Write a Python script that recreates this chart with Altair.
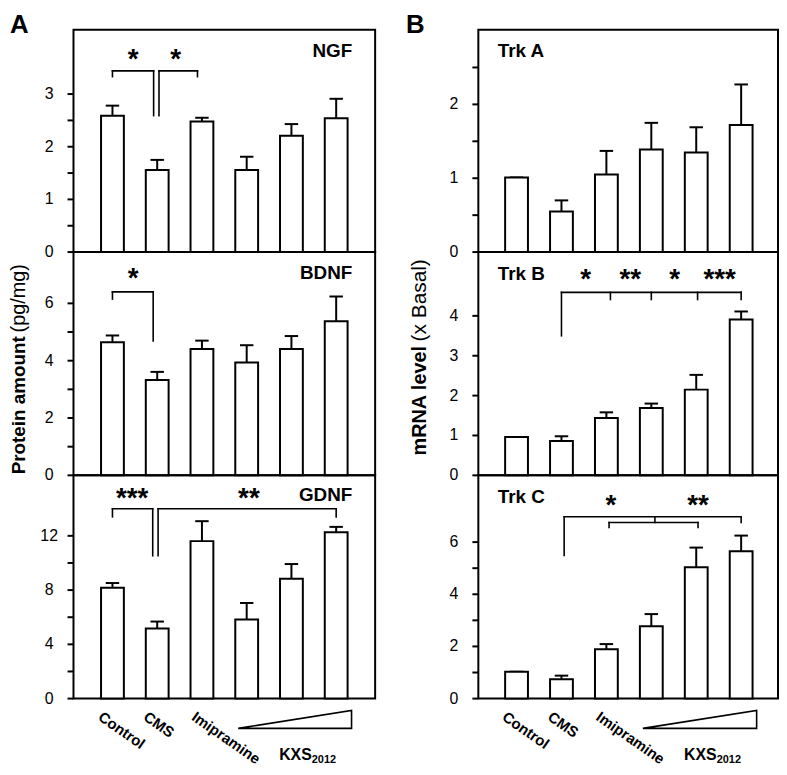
import altair as alt
import pandas as pd

FONT = "Liberation Sans"

# ---------------- data ----------------
categories = ["Control", "CMS", "Imipramine", "KXS2012 low", "KXS2012 mid", "KXS2012 high"]
x_labels = ["Control", "CMS", "Imipramine"]

ngf_mean = [2.59, 1.56, 2.48, 1.56, 2.21, 2.54]
ngf_sem = [0.19, 0.19, 0.07, 0.25, 0.22, 0.37]
bdnf_mean = [4.64, 3.33, 4.41, 3.94, 4.41, 5.38]
bdnf_sem = [0.24, 0.28, 0.29, 0.60, 0.45, 0.86]
gdnf_mean = [8.18, 5.17, 11.61, 5.83, 8.84, 12.27]
gdnf_sem = [0.34, 0.51, 1.47, 1.22, 1.08, 0.39]

trka_mean = [1.01, 0.55, 1.05, 1.39, 1.35, 1.72]
trka_sem = [0.00, 0.15, 0.32, 0.36, 0.34, 0.55]
trkb_mean = [0.96, 0.86, 1.44, 1.69, 2.15, 3.91]
trkb_sem = [0.00, 0.12, 0.14, 0.11, 0.37, 0.20]
trkc_mean = [1.03, 0.74, 1.89, 2.77, 5.04, 5.65]
trkc_sem = [0.00, 0.14, 0.20, 0.47, 0.75, 0.60]

# y ticks (every tick value) and the ones that carry a label
ngf_ticks, ngf_labeled = [0, 0.5, 1, 1.5, 2, 2.5, 3], [0, 1, 2, 3]
bdnf_ticks, bdnf_labeled = [0, 1, 2, 3, 4, 5, 6], [0, 2, 4, 6]
gdnf_ticks, gdnf_labeled = [0, 2, 4, 6, 8, 10, 12], [0, 4, 8, 12]
trka_ticks, trka_labeled = [0, 0.5, 1, 1.5, 2, 2.5], [0, 1, 2]
trkb_ticks, trkb_labeled = [0, 1, 2, 3, 4], [0, 1, 2, 3, 4]
trkc_ticks, trkc_labeled = [0, 1, 2, 3, 4, 5, 6], [0, 2, 4, 6]

# significance brackets (polylines in category-index / value units) and stars
ngf_brackets = [[(0, 3.33), (0, 3.44), (0.92, 3.44), (0.92, 2.59)],
                [(1.04, 2.59), (1.04, 3.44), (1.9, 3.44), (1.9, 3.33)]]
ngf_stars = [(0.46, 3.49, "*"), (1.41, 3.49, "*")]

bdnf_brackets = [[(0, 6.15), (0, 6.40), (0.91, 6.40), (0.91, 4.69)]]
bdnf_stars = [(0.46, 6.56, "*")]

gdnf_brackets = [[(0, 13.4), (0, 14.0), (0.9, 14.0), (0.9, 10.53)],
                 [(1.02, 10.53), (1.02, 14.0), (5.0, 14.0), (5.0, 13.4)]]
gdnf_stars = [(0.44, 14.12, "***"), (3.05, 14.12, "**")]

trka_brackets = []
trka_stars = []

trkb_brackets = [[(1.0, 3.5), (1.0, 4.59), (5.0, 4.59), (5.0, 4.41)],
                 [(2.09, 4.59), (2.09, 4.41)],
                 [(3.0, 4.59), (3.0, 4.41)],
                 [(4.03, 4.59), (4.03, 4.41)]]
trkb_stars = [(1.54, 4.69, "*"), (2.53, 4.69, "**"), (3.52, 4.69, "*"), (4.52, 4.69, "***")]

trkc_brackets = [[(1.06, 5.49), (1.06, 6.97), (5.0, 6.97), (5.0, 6.75)],
                 [(3.08, 6.97), (3.08, 6.75)],
                 [(2.06, 6.56), (2.06, 6.75), (4.04, 6.75), (4.04, 6.56)]]
trkc_stars = [(2.1, 7.09, "*"), (4.04, 7.09, "**")]

# dose triangle under the KXS2012 bars
tri_x = [2.8, 5.25, 5.25, 2.8]
tri_depth = [30, 30, 12, 30]
label_x = [-0.1, 0.88, 1.92]


def seg_frame(brackets):
    segs = []
    for poly in brackets:
        for (a, b), (c, d) in zip(poly[:-1], poly[1:]):
            segs.append((a, b, c, d))
    return pd.DataFrame(segs, columns=["x1", "y1", "x2", "y2"])


def make_panel(mean, sem, ymax, ticks, labeled, xdom, width, height,
               title, title_x, title_y, title_align, brackets, stars, extras=()):
    df = pd.DataFrame({"i": list(range(len(categories))), "group": categories,
                       "mean": mean, "sem": sem})
    df["top"] = df["mean"] + df["sem"]
    df["cap0"] = df["i"] - 0.15
    df["cap1"] = df["i"] + 0.15
    df["zero"] = 0.0

    xs = alt.Scale(domain=xdom, nice=False, zero=False)
    ys = alt.Scale(domain=[0, ymax], nice=False, zero=False)

    base = alt.Chart(df)
    err = base.mark_rule(color="black", strokeWidth=2).encode(
        x=alt.X("i:Q", scale=xs, axis=None),
        y=alt.Y("mean:Q", scale=ys, axis=None),
        y2="top:Q")
    cap = base.mark_rule(color="black", strokeWidth=2).encode(
        x=alt.X("cap0:Q", scale=xs, axis=None), x2="cap1:Q",
        y=alt.Y("top:Q", scale=ys, axis=None))
    bars = base.mark_bar(orient="vertical", size=23, fill="white", stroke="black",
                         strokeWidth=2).encode(
        x=alt.X("i:Q", scale=xs, axis=None),
        y=alt.Y("mean:Q", scale=ys, axis=None), y2="zero:Q")
    layers = [err, cap, bars]

    # y axis: tick marks and labels placed through the y scale
    tdf = pd.DataFrame({"v": ticks})
    tdf["lab"] = [f"{v:g}" if v in labeled else "" for v in ticks]
    tick_marks = alt.Chart(tdf).mark_rule(color="black", strokeWidth=2).encode(
        x=alt.value(-6), x2=alt.value(0), y=alt.Y("v:Q", scale=ys, axis=None))
    tick_labels = alt.Chart(tdf).mark_text(fontSize=16, align="center", baseline="middle",
                                           color="black").encode(
        x=alt.value(-24.5), y=alt.Y("v:Q", scale=ys, axis=None), text="lab:N")
    layers += [tick_marks, tick_labels]

    if brackets:
        br = alt.Chart(seg_frame(brackets)).mark_rule(
            color="black", strokeWidth=1.6, strokeCap="square").encode(
            x=alt.X("x1:Q", scale=xs, axis=None), x2="x2:Q",
            y=alt.Y("y1:Q", scale=ys, axis=None), y2="y2:Q")
        layers.append(br)
    if stars:
        sdf = pd.DataFrame(stars, columns=["x", "y", "t"])
        st = alt.Chart(sdf).mark_text(fontSize=28, fontWeight="bold", align="center",
                                      baseline="alphabetic", color="black").encode(
            x=alt.X("x:Q", scale=xs, axis=None),
            y=alt.Y("y:Q", scale=ys, axis=None), text="t:N")
        layers.append(st)

    ttl = pd.DataFrame({"x": [title_x], "y": [title_y], "t": [title]})
    tt = alt.Chart(ttl).mark_text(fontSize=19, fontWeight="bold", align=title_align,
                                  baseline="alphabetic", color="black").encode(
        x=alt.X("x:Q", scale=xs, axis=None),
        y=alt.Y("y:Q", scale=ys, axis=None), text="t:N")
    layers.append(tt)
    layers.extend(extras)
    return alt.layer(*layers).properties(width=width, height=height)


def free_text(text, x, y, size, weight="bold", angle=0, align="left"):
    props = dict(fontSize=size, fontWeight=weight, align=align,
                 baseline="alphabetic", color="black")
    if angle:
        props["angle"] = angle
    return alt.Chart(pd.DataFrame({"t": [text]})).mark_text(**props).encode(
        x=alt.value(x), y=alt.value(y), text="t:N")


def make_strip(xdom, width, height):
    xs = alt.Scale(domain=xdom, nice=False, zero=False)
    ys = alt.Scale(domain=[0, height], reverse=True, nice=False, zero=False)
    tri = alt.Chart(pd.DataFrame({"x": tri_x, "d": tri_depth, "o": [0, 1, 2, 3]})).mark_line(
        color="black", strokeWidth=1.6, strokeJoin="miter").encode(
        x=alt.X("x:Q", scale=xs, axis=None),
        y=alt.Y("d:Q", scale=ys, axis=None), order="o:O")
    labels = alt.Chart(pd.DataFrame({"x": label_x, "t": x_labels})).mark_text(
        angle=35, align="left", baseline="top", fontSize=15, fontWeight="bold",
        color="black").encode(
        x=alt.X("x:Q", scale=xs, axis=None), y=alt.value(11), text="t:N")
    kxs = alt.Chart(pd.DataFrame({"x": [4.39], "t": ["KXS"]})).mark_text(
        align="right", baseline="alphabetic", fontSize=16, fontWeight="bold",
        color="black").encode(x=alt.X("x:Q", scale=xs, axis=None), y=alt.value(62), text="t:N")
    sub = alt.Chart(pd.DataFrame({"x": [4.39], "t": ["2012"]})).mark_text(
        align="left", baseline="alphabetic", fontSize=11, fontWeight="bold",
        color="black").encode(x=alt.X("x:Q", scale=xs, axis=None), y=alt.value(65), text="t:N")
    return alt.layer(tri, labels, kxs, sub).properties(
        width=width, height=height, view=alt.ViewBackground(stroke="transparent"))


XL = [-0.76, 5.76]
XR = [-0.74, 5.71]
WL, WR = 304, 302
H1, H2, H3, HS = 224, 225, 225, 70

ngf = make_panel(ngf_mean, ngf_sem, 4.22, ngf_ticks, ngf_labeled, XL, WL, H1,
                 "NGF", 5.36, 3.70, "right", ngf_brackets, ngf_stars,
                 extras=[free_text("A", -64, 3, 26)])
bdnf = make_panel(bdnf_mean, bdnf_sem, 7.79, bdnf_ticks, bdnf_labeled, XL, WL, H2,
                  "BDNF", 5.36, 6.84, "right", bdnf_brackets, bdnf_stars,
                  extras=[free_text("Protein amount", -49, 224, 19, angle=270),
                          free_text("(pg/mg)", -49, 81, 20, weight="normal", angle=270)])
gdnf = make_panel(gdnf_mean, gdnf_sem, 16.46, gdnf_ticks, gdnf_labeled, XL, WL, H3,
                  "GDNF", 5.36, 14.55, "right", gdnf_brackets, gdnf_stars)

trka = make_panel(trka_mean, trka_sem, 3.01, trka_ticks, trka_labeled, XR, WR, H1,
                  "Trk A", -0.42, 2.64, "left", trka_brackets, trka_stars,
                  extras=[free_text("B", -73, 3, 26)])
trkb = make_panel(trkb_mean, trkb_sem, 5.6, trkb_ticks, trkb_labeled, XR, WR, H2,
                  "Trk B", -0.42, 4.91, "left", trkb_brackets, trkb_stars,
                  extras=[free_text("mRNA level", -53, 205, 20, angle=270),
                          free_text("(x Basal)", -53, 90, 21, weight="normal", angle=270)])
trkc = make_panel(trkc_mean, trkc_sem, 8.56, trkc_ticks, trkc_labeled, XR, WR, H3,
                  "Trk C", -0.42, 7.51, "left", trkc_brackets, trkc_stars)

strip_l = make_strip(XL, WL, HS)
strip_r = make_strip(XR, WR, HS)

chart = alt.concat(ngf, trka, bdnf, trkb, gdnf, trkc, strip_l, strip_r,
                   columns=2, spacing={"row": 0, "column": 104},
                   bounds="flush", align="each").properties(
    padding=0
).configure_view(
    stroke="black", strokeWidth=2
).configure_text(
    font=FONT
)

chart.save("out.html", embed_options={"renderer": "svg", "actions": False})
